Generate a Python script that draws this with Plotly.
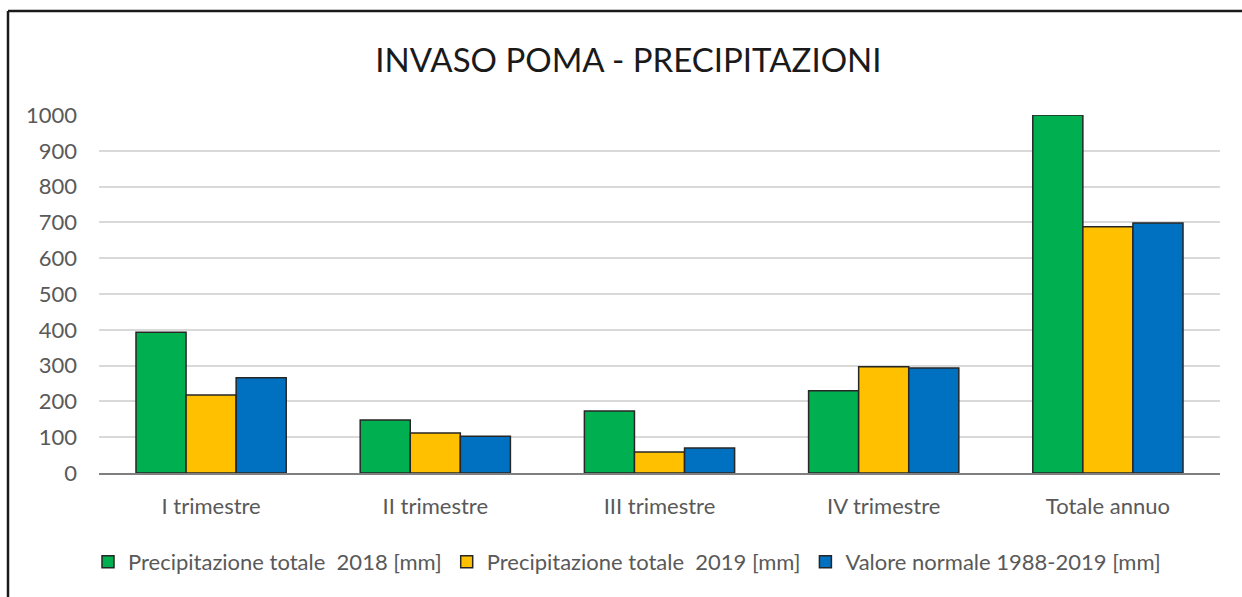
import plotly.graph_objects as go

categories = ["I trimestre", "II trimestre", "III trimestre", "IV trimestre", "Totale annuo"]
series_names = [
    "Precipitazione totale  2018 [mm]",
    "Precipitazione totale  2019 [mm]",
    "Valore normale 1988-2019 [mm]",
]
prec_2018 = [393, 148, 173, 230, 1000]
prec_2019 = [218, 112, 59, 297, 688]
normale = [266, 103, 70, 293, 698]
y_ticks = [0, 100, 200, 300, 400, 500, 600, 700, 800, 900, 1000]

colors = ["#00B050", "#FFC000", "#0070C0"]
FONT = "Lato"
TEXT = "#595959"

fig = go.Figure()
for name, vals, col in zip(series_names, [prec_2018, prec_2019, normale], colors):
    fig.add_trace(go.Bar(
        x=categories, y=vals, name=name,
        marker=dict(color=col, line=dict(color="#262626", width=1.5)),
    ))

W, H = 1242, 597
L, R, T, B = 99, 22, 115, 124
pw, ph = W - L - R, H - T - B

def px_x(x):
    return (x - L) / pw

def px_y(y):
    return (H - B - y) / ph

# frame around the chart: only its top and left edges fall inside the page
frame = dict(color="#1a1a1a", width=2.5)
shapes = [
    dict(type="line", xref="paper", yref="paper",
         x0=px_x(8), x1=px_x(W + 5), y0=px_y(11), y1=px_y(11), line=frame),
    dict(type="line", xref="paper", yref="paper",
         x0=px_x(8), x1=px_x(8), y0=px_y(11), y1=px_y(H + 5), line=frame),
]

fig.update_layout(
    width=W, height=H,
    margin=dict(l=L, r=R, t=T, b=B, pad=0),
    paper_bgcolor="white", plot_bgcolor="white",
    barmode="group", bargap=0.33, bargroupgap=0,
    font=dict(family=FONT, color=TEXT, size=22),
    title=dict(
        text="INVASO POMA - PRECIPITAZIONI",
        font=dict(family=FONT, size=33, color="#1a1a1a"),
        xref="container", x=0.506, xanchor="center",
        yref="container", y=1 - 60 / H, yanchor="middle",
    ),
    xaxis=dict(
        showgrid=False, showline=True, linecolor="#7f7f7f", linewidth=1.5,
        tickfont=dict(family=FONT, size=22, color=TEXT),
        ticks="", ticklabelstandoff=13,
    ),
    yaxis=dict(
        range=[0, 1000], tickvals=y_ticks,
        showgrid=True, gridcolor="#D9D9D9", gridwidth=1.5,
        zeroline=False, showline=False,
        tickfont=dict(family=FONT, size=22, color=TEXT),
        ticks="", ticklabelstandoff=21,
    ),
    legend=dict(
        orientation="h", x=px_x(627), xanchor="center",
        y=px_y(562), yanchor="middle",
        font=dict(family=FONT, size=22, color=TEXT),
        itemwidth=30, tracegroupgap=0,
    ),
    shapes=shapes,
)

fig.write_html(
    "out.html",
    config={"displayModeBar": False},
    post_script="document.body.style.margin='0';document.body.style.overflow='hidden';",
)
